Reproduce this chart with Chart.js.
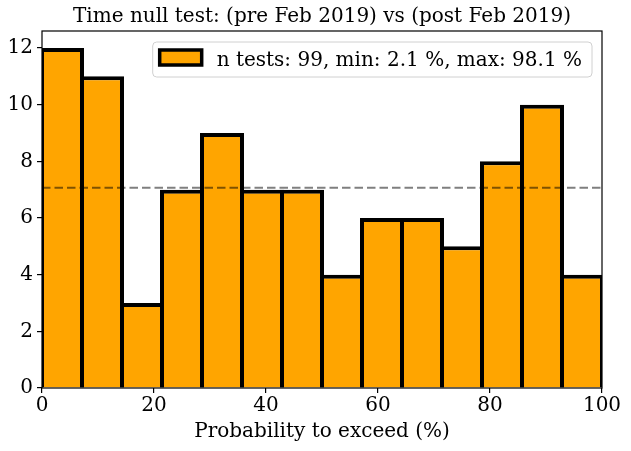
<!DOCTYPE html>
<html>
<head>
<meta charset="utf-8">
<script src="https://cdn.jsdelivr.net/npm/chart.js@4"></script>
<style>
  body { margin: 0; background: #fff; }
  #wrap { width: 631px; height: 451px; }
</style>
</head>
<body>
<div id="wrap"><canvas id="chart" width="631" height="451"></canvas></div>
<script>
'use strict';

// histogram counts, 14 bins over 0..100 %
let binStart = 0;
let binEnd = 100;
let counts = [12, 11, 3, 7, 9, 7, 7, 4, 6, 6, 5, 8, 10, 4];
let xTicks = [0, 20, 40, 60, 80, 100];
let yTicks = [0, 2, 4, 6, 8, 10, 12];
let meanLevel = [99 / 14, 99 / 14];
let legendText = 'n tests: 99, min: 2.1 %, max: 98.1 %';
let titleText = 'Time null test: (pre Feb 2019) vs (post Feb 2019)';
let xTitle = 'Probability to exceed (%)';

let fontFamily = '"DejaVu Serif", serif';
let orange = '#ffa500';

let binWidth = (binEnd - binStart) / counts.length;
let barData = [];
for (let i = 0; i < counts.length; i++) {
    barData.push({ x: binStart + binWidth * (i + 0.5), y: counts[i] });
}

let frame = {
    id: 'frame',
    afterDatasetsDraw(chart) {
        let a = chart.chartArea;
        let ctx = chart.ctx;
        ctx.save();
        ctx.strokeStyle = '#000';
        ctx.lineWidth = 1.2;
        ctx.strokeRect(a.left, a.top, a.right - a.left, a.bottom - a.top);
        // title centred over the plot area
        ctx.fillStyle = '#000';
        ctx.font = '20px ' + fontFamily;
        ctx.textAlign = 'center';
        ctx.textBaseline = 'middle';
        ctx.fillText(titleText, (a.left + a.right) / 2, 17);
        ctx.restore();
    }
};

let boxLegend = {
    id: 'boxLegend',
    afterDraw(chart) {
        let a = chart.chartArea;
        let ctx = chart.ctx;
        ctx.save();
        ctx.font = '20px ' + fontFamily;
        let tw = ctx.measureText(legendText).width;
        let w = 7 + 42 + 15 + tw + 10;
        let h = 35;
        let x = a.right - 10 - w;
        let y = a.top + 11;
        ctx.fillStyle = 'rgba(255,255,255,0.8)';
        ctx.strokeStyle = '#d0d0d0';
        ctx.lineWidth = 1;
        ctx.beginPath();
        ctx.roundRect(x, y, w, h, 4);
        ctx.fill();
        ctx.stroke();
        ctx.fillStyle = orange;
        ctx.strokeStyle = '#000';
        ctx.lineWidth = 3.5;
        ctx.fillRect(x + 7, y + 8, 42, 15);
        ctx.strokeRect(x + 7, y + 8, 42, 15);
        ctx.fillStyle = '#000';
        ctx.textBaseline = 'middle';
        ctx.fillText(legendText, x + 7 + 42 + 15, y + h / 2 + 1);
        ctx.restore();
    }
};

let ctx = document.getElementById('chart').getContext('2d');

let chart = new Chart(ctx, {
    type: 'bar',
    data: {
        datasets: [
            {
                type: 'line',
                data: [{ x: binStart, y: meanLevel[0] }, { x: binEnd, y: meanLevel[1] }],
                borderColor: 'rgba(0,0,0,0.5)',
                borderWidth: 2,
                borderDash: [8.5, 4],
                pointRadius: 0,
                order: 0
            },
            {
                data: barData,
                backgroundColor: orange,
                borderColor: '#000',
                borderWidth: 4,
                borderSkipped: 'start',
                barPercentage: 1.1,
                categoryPercentage: 1,
                order: 1
            }
        ]
    },
    options: {
        responsive: false,
        animation: false,
        devicePixelRatio: 1,
        layout: { padding: { left: 0, right: 29, top: 31, bottom: 0 } },
        plugins: {
            legend: { display: false },
            tooltip: { enabled: false },
            title: { display: false }
        },
        scales: {
            x: {
                type: 'linear',
                min: binStart,
                max: binEnd,
                offset: false,
                afterBuildTicks: s => { s.ticks = xTicks.map(v => ({ value: v })); },
                afterFit: s => { s.height = 63; },
                grid: { display: true, offset: false, drawOnChartArea: false, tickLength: 5, color: '#000', lineWidth: 1.2 },
                border: { display: false },
                ticks: { color: '#000', font: { family: fontFamily, size: 20 }, padding: 1, maxRotation: 0 },
                title: {
                    display: true,
                    text: xTitle,
                    color: '#000',
                    font: { family: fontFamily, size: 20 },
                    padding: { top: 0, bottom: 7 }
                }
            },
            y: {
                min: 0,
                max: 12.6,
                afterBuildTicks: s => { s.ticks = yTicks.map(v => ({ value: v })); },
                afterFit: s => { s.width = 42; },
                grid: { display: true, offset: false, drawOnChartArea: false, tickLength: 5, color: '#000', lineWidth: 1.2 },
                border: { display: false },
                ticks: { color: '#000', font: { family: fontFamily, size: 20 }, padding: 4 }
            }
        }
    },
    plugins: [frame, boxLegend]
});
</script>
</body>
</html>
